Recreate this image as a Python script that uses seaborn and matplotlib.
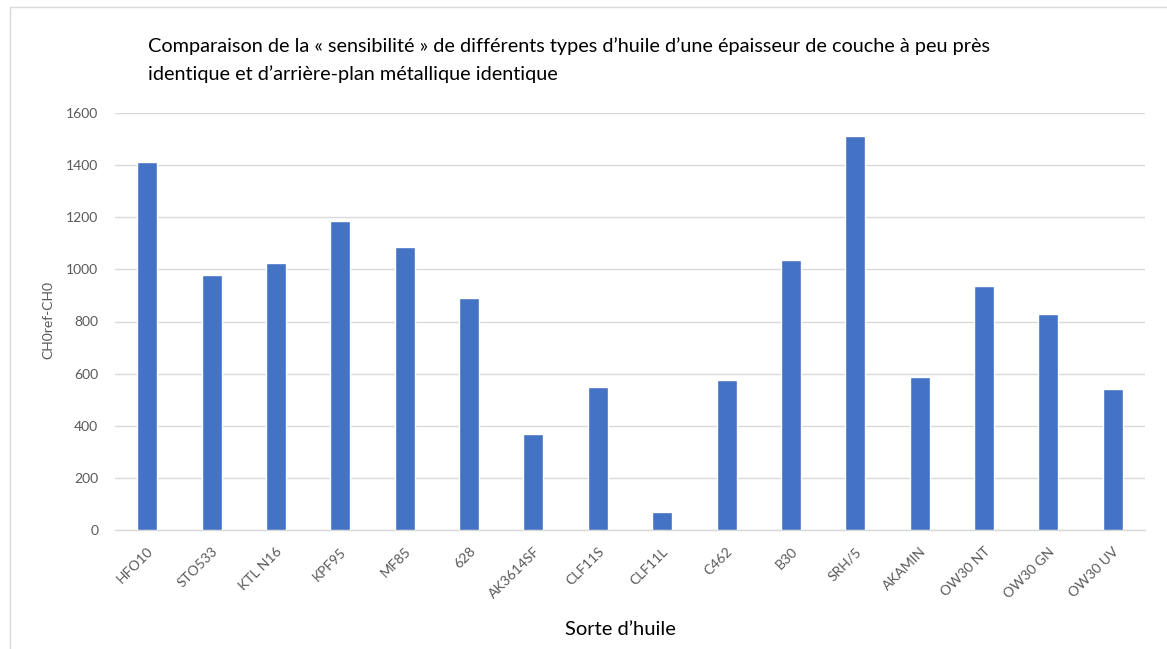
import matplotlib
matplotlib.use("Agg")
import matplotlib.pyplot as plt
from matplotlib.lines import Line2D
from matplotlib.transforms import Bbox
import seaborn as sns
import pandas as pd

huiles = ["HFO10", "STO533", "KTL N16", "KPF95", "MF85", "628", "AK3614SF",
          "CLF11S", "CLF11L", "C462", "B30", "SRH/5", "AKAMIN",
          "OW30 NT", "OW30 GN", "OW30 UV"]
ecart = [1412, 978, 1025, 1186, 1086, 890, 368, 549, 69, 576, 1036, 1512,
         587, 936, 829, 541]
yticks = [0, 200, 400, 600, 800, 1000, 1200, 1400, 1600]

sns.set_theme(style="white")
plt.rcParams["font.family"] = ["Lato", "DejaVu Sans"]

df = pd.DataFrame({"huile": huiles, "ecart": ecart})

W, H = 1167, 649
fig = plt.figure(figsize=(W / 100, H / 100), dpi=100)
ax = fig.add_axes([115 / W, 1 - 530 / H, (1145 - 115) / W, (530 - 113) / H])

sns.barplot(data=df, x="huile", y="ecart", color="#4472C4", saturation=1,
            width=0.31, ax=ax, zorder=3)

ax.set_ylim(0, 1600)
ax.set_xlim(-0.5, len(huiles) - 0.5)
ax.set_yticks(yticks)
ax.set_yticklabels([str(v) for v in yticks])
ax.yaxis.grid(True, color="#d9d9d9", linewidth=1, zorder=0)
for side in ["top", "right", "left"]:
    ax.spines[side].set_visible(False)
ax.spines["bottom"].set_color("#d9d9d9")
ax.spines["bottom"].set_linewidth(1)
ax.tick_params(axis="both", length=0, colors="#595959", labelsize=10)
ax.tick_params(axis="y", pad=12)
ax.set_xticks(range(len(huiles)))
ax.set_xticklabels(huiles, rotation=45, ha="right", rotation_mode="anchor")
ax.tick_params(axis="x", pad=11)
ax.set_xlabel("")
ax.set_ylabel("")

fig.text(48 / W, 1 - 320 / H, "CH0ref-CH0", rotation=90, ha="center",
         va="center", fontsize=10, color="#595959")
fig.text(148 / W, 1 - 46 / H,
         "Comparaison de la « sensibilité » de différents types d’huile d’une épaisseur de couche à peu près",
         ha="left", va="center", fontsize=14.3, color="#000000")
fig.text(148 / W, 1 - 74 / H,
         "identique et d’arrière-plan métallique identique",
         ha="left", va="center", fontsize=14.3, color="#000000")
xlab = fig.text(620 / W, 1 - 621 / H, "Sorte d’huile", ha="center", va="top",
                fontsize=14.5, color="#000000")
# the chart area ends just below the axis title, which is cut there
xlab.set_clip_box(Bbox.from_extents(0, H - 635, W, H))
xlab.set_clip_on(True)

# frame of the chart area
fig.add_artist(Line2D([10 / W, 1], [1 - 7 / H, 1 - 7 / H], color="#d9d9d9",
                      linewidth=1, transform=fig.transFigure))
fig.add_artist(Line2D([10 / W, 10 / W], [0, 1 - 7 / H], color="#d9d9d9",
                      linewidth=1, transform=fig.transFigure))

fig.savefig("out.png", dpi=100, facecolor="white")
